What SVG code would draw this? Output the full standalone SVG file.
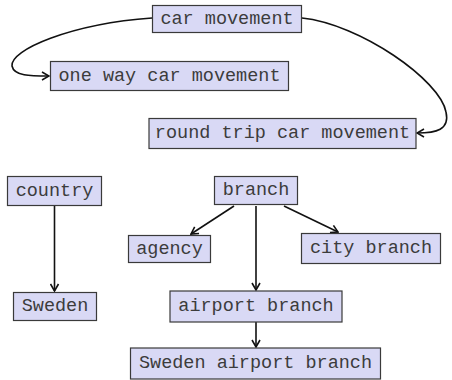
<svg xmlns="http://www.w3.org/2000/svg" width="452" height="380" viewBox="0 0 452 380">
  <style>
    .node rect { fill: #d9d9f5; stroke: #3a3a3a; stroke-width: 1.2; }
    .node text { font-family: "Courier New", "Liberation Mono", monospace; font-size: 18.5px; fill: #3c3c3c; text-anchor: middle; dominant-baseline: central; }
    .edge { fill: none; stroke: #111; stroke-width: 1.6; marker-end: url(#arrow); }
  </style>
  <defs>
    <marker id="arrow" viewBox="0 0 10 10" refX="9" refY="5" markerWidth="10" markerHeight="10" markerUnits="userSpaceOnUse" orient="auto">
      <path d="M2,1 L9,5 L2,9" fill="none" stroke="#111" stroke-width="1.6"/>
    </marker>
  </defs>

  <g id="connectors">
    <path class="edge" d="M152,18 C70,24 10,50 12,66 C14,76 30,76 49,76"/>
    <path class="edge" d="M302,18 C360,24 440,80 446,112 C450,130 436,133 417,133"/>
    <path class="edge" d="M54.5,206 L54.5,291"/>
    <path class="edge" d="M234,206 L191,234"/>
    <path class="edge" d="M284,206 L338,232"/>
    <path class="edge" d="M256,206 L256,290"/>
    <path class="edge" d="M256,322 L256,347"/>
  </g>

  <g id="car-movement" class="node">
    <rect x="152.5" y="5.5" width="149" height="27"/>
    <text x="227" y="19">car movement</text>
  </g>
  <g id="one-way-car-movement" class="node">
    <rect x="50.5" y="61.5" width="238" height="29"/>
    <text x="169.5" y="76">one way car movement</text>
  </g>
  <g id="round-trip-car-movement" class="node">
    <rect x="149" y="118.5" width="267" height="30"/>
    <text x="282.5" y="133.5">round trip car movement</text>
  </g>
  <g id="country" class="node">
    <rect x="7.5" y="176.5" width="94" height="29"/>
    <text x="54.5" y="191">country</text>
  </g>
  <g id="sweden" class="node">
    <rect x="13.5" y="292.5" width="83" height="28"/>
    <text x="55" y="306.5">Sweden</text>
  </g>
  <g id="branch" class="node">
    <rect x="214.5" y="176.5" width="83" height="28"/>
    <text x="256" y="190.5">branch</text>
  </g>
  <g id="agency" class="node">
    <rect x="128.5" y="235.5" width="82" height="27"/>
    <text x="169.5" y="249">agency</text>
  </g>
  <g id="city-branch" class="node">
    <rect x="301.5" y="233.5" width="139" height="30"/>
    <text x="371" y="248.5">city branch</text>
  </g>
  <g id="airport-branch" class="node">
    <rect x="170" y="291" width="172" height="31"/>
    <text x="256" y="306.5">airport branch</text>
  </g>
  <g id="sweden-airport-branch" class="node">
    <rect x="130.5" y="348" width="250" height="31"/>
    <text x="255.5" y="363.5">Sweden airport branch</text>
  </g>
</svg>
